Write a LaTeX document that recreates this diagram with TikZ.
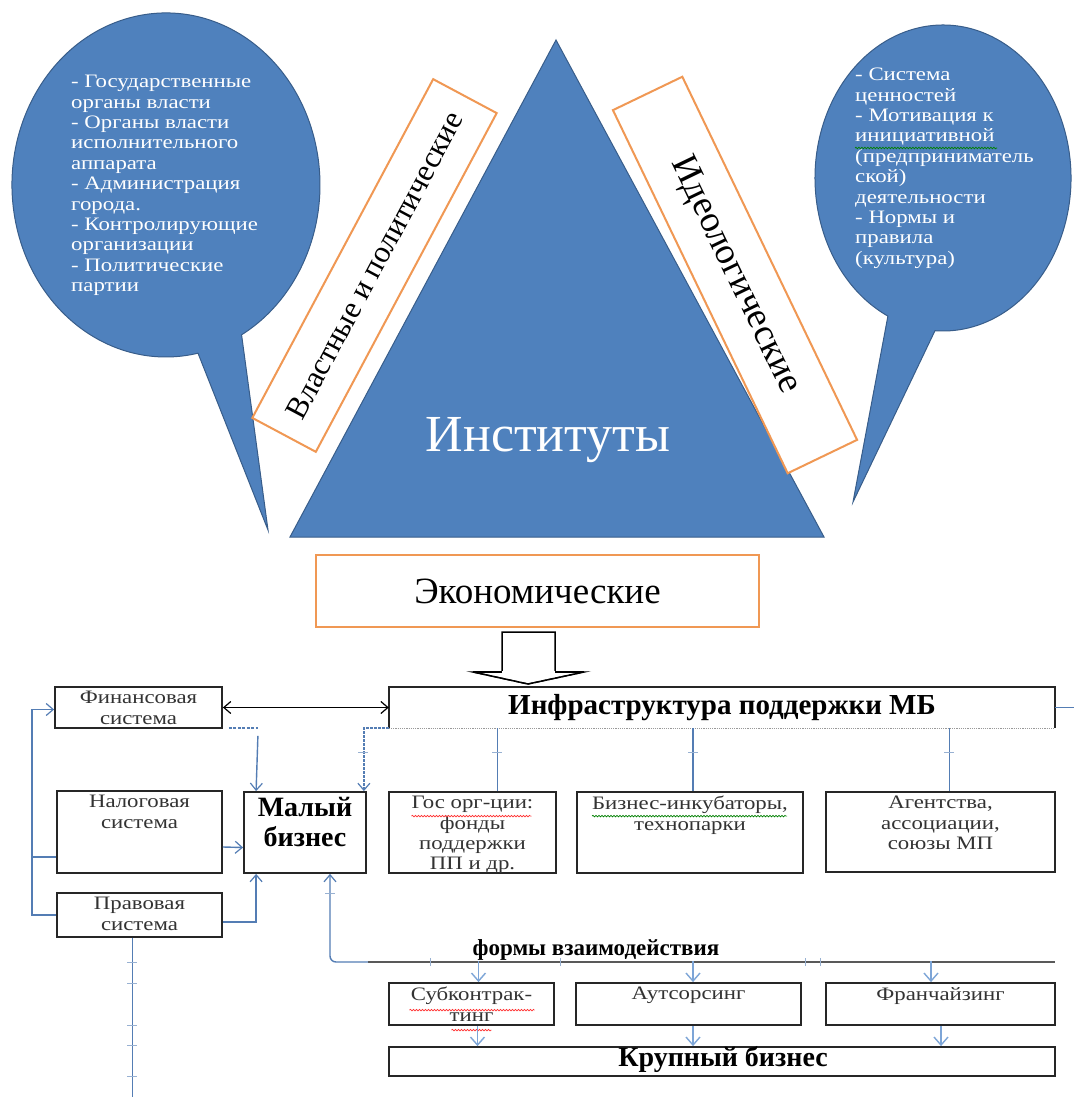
\documentclass[tikz,border=0pt]{standalone}
\usepackage{fontspec}
\setmainfont{Liberation Serif}
\newfontfamily\widefont{Liberation Serif}[FakeStretch=1.2]
\usetikzlibrary{calc,arrows.meta,decorations.pathmorphing}
\definecolor{triblue}{RGB}{79,129,189}
\definecolor{tribord}{RGB}{56,93,138}
\definecolor{orng}{RGB}{240,152,84}
\definecolor{lineblue}{RGB}{84,125,180}
\definecolor{arrblue}{RGB}{125,165,215}
\begin{document}
\begin{tikzpicture}[x=1pt,y=-1pt,
  bl/.style={draw=lineblue, line width=1.4pt},
  barb/.style={-{Straight Barb[length=7pt,width=12pt,line width=1.2pt]}},
  lbarr/.style={draw=arrblue, line width=1.6pt, -{Straight Barb[length=8pt,width=14pt,line width=1.4pt]}},
  bbox/.style={draw=black!85, line width=1.8pt, inner sep=0pt},
  btxt/.style={font=\widefont\fontsize{19}{20.4}\selectfont, align=center, inner sep=1pt, anchor=north, yshift=-4pt, text=black!80},
  calltxt/.style={font=\widefont\fontsize{19}{20.4}\selectfont, text=white, align=left, inner sep=0pt, anchor=north west},
  orngbox/.style={draw=orng, line width=2pt, fill=white, inner sep=0pt},
  callout/.style={fill=triblue, draw=tribord, line width=1pt},
  tickmark/.style={draw=lineblue!60, line width=0.8pt},
  wavyred/.style={draw=red!80, line width=0.7pt, decorate, decoration={snake, amplitude=0.8pt, segment length=3pt}},
  wavygreen/.style={draw=green!50!black, line width=0.7pt, decorate, decoration={snake, amplitude=0.8pt, segment length=3pt}}
]
\useasboundingbox (0,0) rectangle (1074,1097);
\fill[white] (0,0) rectangle (1074,1097);

% ---------- callouts ----------
\path[callout] (198,353.2) arc[start angle=78, end angle=420.6, x radius=154, y radius=172] -- (268,530) -- cycle;
\path[callout] (887.9,316.1) arc[start angle=115.5, end angle=453.6, x radius=128, y radius=153] -- (853,502) -- cycle;

\node[calltxt] (lct) at (71,75) {- Государственные\\органы власти\\- Органы власти\\исполнительного\\аппарата\\- Администрация\\города.\\- Контролирующие\\организации\\- Политические\\партии};
\node[calltxt] (rct) at (855,68) {- Система\\ценностей\\- Мотивация к\\инициативной\\(предприниматель\\ской)\\деятельности\\- Нормы и\\правила\\(культура)};
\draw[wavygreen] ($(rct.north west)+(0,80)$) -- ++(142,0);

% ---------- triangle ----------
\coordinate (apex) at (556,40);
\coordinate (bl) at (290,537);
\coordinate (br) at (824,537);
\path[callout] (apex) -- (br) -- (bl) -- cycle;
\node[text=white, font=\fontsize{52}{60}\selectfont] (inst) at (548,440) {Институты};

% ---------- orange boxes ----------
\node[orngbox, minimum width=384pt, minimum height=72pt, rotate=61.9, font=\fontsize{31}{36}\selectfont] (vlast) at (374.5,265.5) {Властные и политические};
\node[orngbox, minimum width=403pt, minimum height=77pt, rotate=-64.3, font=\fontsize{37}{42}\selectfont] (ideo) at (735,275) {Идеологические};
\node[orngbox, minimum width=443pt, minimum height=72pt, font=\fontsize{37}{42}\selectfont] (econ) at (537.5,591) {Экономические};

% hollow arrow
\coordinate (ha) at (528,632);
\draw[black, line width=1.5pt, fill=white] (502,672) -- (502,632) -- (555,632) -- (555,672) -- (584,672) -- (528,684) -- (473,672) -- cycle;
\draw[white, line width=1.6pt] (474,672.2) -- (583,672.2);
\draw[black, line width=1.3pt, dash pattern=on 5pt off 2pt] (473,672) -- (528,684) -- (584,672);
\draw[black, line width=1.6pt] (473,672) -- (502,672) (555,672) -- (584,672);

% ---------- lower boxes ----------
\node[bbox, minimum width=167pt, minimum height=41pt] (fin) at (138.5,707.5) {};
\node[bbox, minimum width=165pt, minimum height=82pt] (nal) at (139.5,832) {};
\node[bbox, minimum width=165pt, minimum height=44pt] (prav) at (139.5,915) {};
\node[bbox, minimum width=122pt, minimum height=81pt] (malyi) at (305,832.5) {};
\node[bbox, minimum width=167pt, minimum height=81pt] (gos) at (472.5,832.5) {};
\node[bbox, minimum width=226pt, minimum height=81pt] (biz) at (690,832.5) {};
\node[bbox, minimum width=229pt, minimum height=80pt] (agen) at (940.5,832) {};
\node[bbox, minimum width=165pt, minimum height=42pt] (sub) at (471.5,1004) {};
\node[bbox, minimum width=225pt, minimum height=42pt] (auts) at (688.5,1004) {};
\node[bbox, minimum width=229pt, minimum height=42pt] (fran) at (940.5,1004) {};
\node[bbox, minimum width=666pt, minimum height=29pt] (krup) at (722,1061.5) {};

\node[font=\bfseries\fontsize{29}{32}\selectfont, minimum width=666pt, minimum height=41pt, inner sep=0pt] (infra) at (722,707.5) {Инфраструктура поддержки МБ};
\draw[black!85, line width=1.8pt] (infra.south west) -- (infra.north west) -- (infra.north east) -- (infra.south east);
\draw[gray!80, densely dotted, line width=1.2pt] (infra.south west) -- (infra.south east);

\node[btxt] (fint) at (fin.north) {Финансовая\\система};
\node[btxt] (nalt) at (nal.north) {Налоговая\\система};
\node[btxt] (pravt) at (prav.north) {Правовая\\система};
\node[font=\bfseries\fontsize{28}{30}\selectfont, align=center, inner sep=1pt, anchor=north, yshift=-5pt] (malyit) at (malyi.north) {Малый\\бизнес};
\node[btxt] (gost) at (gos.north) {Гос орг-ции:\\фонды\\поддержки\\ПП и др.};
\node[btxt] (bizt) at (biz.north) {Бизнес-инкубаторы,\\технопарки};
\node[btxt] (agent) at (agen.north) {Агентства,\\ассоциации,\\союзы МП};
\node[btxt] (subt) at (sub.north) {Субконтрак-\\тинг};
\node[btxt] (autst) at (auts.north) {Аутсорсинг};
\node[btxt] (frant) at (fran.north) {Франчайзинг};
\node[font=\bfseries\fontsize{28}{30}\selectfont, inner sep=0pt] (krupt) at (723,1059) {Крупный бизнес};
\node[font=\bfseries\fontsize{23}{26}\selectfont, inner sep=0pt] (forms) at (596,950) {формы взаимодействия};

\draw[wavyred] ($(gos.north)+(-61,25)$) -- ++(120,0);
\draw[wavygreen] ($(biz.north)+(-98,25)$) -- ++(195,0);
\draw[wavyred] ($(sub.north)+(-62,28)$) -- ++(125,0);
\draw[wavyred] ($(sub.north)+(-20,48)$) -- ++(40,0);

% ---------- connectors ----------
\draw[black, line width=1.4pt, {Straight Barb[length=7pt,width=12pt,line width=1.2pt]}-{Straight Barb[length=7pt,width=12pt,line width=1.2pt]}] (fin.east) -- (infra.west);
\draw[bl, barb] (prav.west) -- ++(-24,0) |- ($(fin.west)+(0,2)$);
\draw[bl] ($(nal.west)+(0,25)$) -- ++(-24,0);
\draw[bl, barb] ($(nal.east)+(0,15)$) -- ($(malyi.west)+(0,15)$);
\draw[bl, barb] ($(prav.east)+(0,7)$) -| ($(malyi.south west)+(13,0)$);
\draw[bl, dash pattern=on 3pt off 1.5pt] ($(fin.south east)+(6,-1)$) -- ++(29,0);
\draw[bl, barb] ($(fin.south east)+(35,7)$) -- ($(malyi.north west)+(13,0)$);
\draw[bl, barb, line width=2.4pt, dash pattern=on 3pt off 1pt] (infra.south west) -| ($(malyi.north east)+(-3,0)$);
\draw[bl] ($(gos.north)+(25,0)$) -- ($(gos.north |- infra.south)+(25,0)$);
\draw[bl] ($(biz.north)+(3,0)$) -- ($(biz.north |- infra.south)+(3,0)$);
\draw[bl] ($(agen.north)+(9,0)$) -- ($(agen.north |- infra.south)+(9,0)$);
\draw[bl] (infra.east) -- ++(19,0);
\draw[bl] ($(prav.south)+(-7,0)$) -- ++(0,162);

\coordinate (fl) at (368,962);
\coordinate (fr) at (1055,962);
\draw[black!65, line width=1.6pt] (fl) -- (fr);
\draw[bl, barb, rounded corners=6pt] (fl) -| ($(malyi.south)+(25,0)$);

\draw[lbarr] ($(sub.north)+(7,-21)$) -- ($(sub.north)+(7,0)$);
\draw[lbarr] ($(auts.north)+(4.5,-21)$) -- ($(auts.north)+(4.5,0)$);
\draw[lbarr] ($(fran.north)+(-9.5,-21)$) -- ($(fran.north)+(-9.5,0)$);
\draw[lbarr] ($(sub.south)+(6,0)$) -- ($(krup.north -| sub.south)+(6,0)$);
\draw[lbarr] ($(auts.south)+(4.5,0)$) -- ($(krup.north -| auts.south)+(4.5,0)$);
\draw[lbarr] ($(fran.south)+(0.5,0)$) -- ($(krup.north -| fran.south)+(0.5,0)$);

% small tick marks
\foreach \t in {962,983,1025,1045,1076} \draw[tickmark] (127,\t) -- (137,\t);
\foreach \xx in {363,497,693,949} \draw[tickmark] (\xx-5,752) -- (\xx+5,752);
\draw[tickmark] (325,893) -- (335,893);
\foreach \xx in {430,560,805,820} \draw[tickmark] (\xx,958) -- (\xx,966);
\end{tikzpicture}
\end{document}
